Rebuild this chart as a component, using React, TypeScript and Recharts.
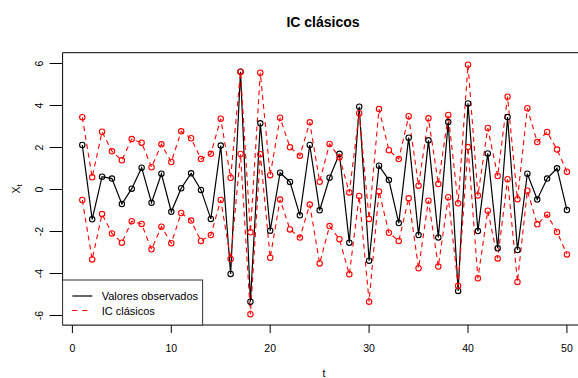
import React from "react";
import { ComposedChart, Line, XAxis, YAxis, ReferenceArea } from "recharts";

const T = [1, 2, 3, 4, 5, 6, 7, 8, 9, 10, 11, 12, 13, 14, 15, 16, 17, 18, 19, 20, 21, 22, 23, 24, 25, 26, 27, 28, 29, 30, 31, 32, 33, 34, 35, 36, 37, 38, 39, 40, 41, 42, 43, 44, 45, 46, 47, 48, 49, 50];
const OBS = [2.12, -1.42, 0.61, 0.52, -0.69, 0.04, 1.04, -0.63, 0.75, -1.06, 0.06, 0.77, -0.02, -1.4, 2.09, -4.02, 5.61, -5.34, 3.15, -1.96, 0.8, 0.36, -1.23, 2.12, -0.99, 0.56, 1.7, -2.53, 3.94, -3.39, 1.13, 0.45, -1.6, 2.47, -2.17, 2.34, -2.28, 3.21, -4.83, 4.1, -1.98, 1.72, -2.8, 3.45, -2.88, 0.75, -0.48, 0.52, 1.01, -0.98];
const UPPER = [3.44, 0.58, 2.75, 1.82, 1.39, 2.4, 2.23, 1.06, 2.15, 1.31, 2.77, 2.44, 1.45, 1.7, 3.37, 0.56, 5.61, -2.04, 5.56, 0.68, 3.42, 2.01, 1.61, 3.2, 0.37, 2.17, 1.53, -0.14, 3.63, -1.4, 3.83, 1.87, 1.45, 3.49, 0.18, 3.39, 0.26, 3.55, -0.66, 5.94, -0.29, 2.93, 0.64, 4.42, -0.47, 3.87, 2.26, 2.74, 1.9, 0.85];
const LOWER = [-0.5, -3.33, -1.17, -2.09, -2.53, -1.51, -1.64, -2.85, -1.77, -2.56, -1.12, -1.48, -2.45, -2.17, -0.5, -3.31, 1.69, -5.94, 1.68, -3.25, -0.48, -1.9, -2.29, -0.72, -3.52, -1.74, -2.37, -4.04, -0.31, -5.34, -0.09, -2.06, -2.45, -0.42, -3.75, -0.53, -3.67, -0.37, -4.58, 2.02, -4.23, -1.01, -3.28, 0.49, -4.4, -0.06, -1.66, -1.2, -2.02, -3.09];
const X_TICKS = [0, 10, 20, 30, 40, 50];
const Y_TICKS = [-6, -4, -2, 0, 2, 4, 6];
const X_DOMAIN = [-0.99, 51.96];
const Y_DOMAIN = [-6.452, 6.514];

const data = T.map((t, i) => ({ t, obs: OBS[i], upper: UPPER[i], lower: LOWER[i] }));

const FONT = "'Liberation Sans', Arial, Helvetica, sans-serif";

const makeDot = (color: string) => (props: any) => (
  <circle
    key={`d-${props.index}`}
    cx={props.cx}
    cy={props.cy}
    r={2.7}
    fill="none"
    stroke={color}
    strokeWidth={1.1}
  />
);

const XTick = (props: any) => {
  const { x, payload } = props;
  return (
    <text x={x} y={352} textAnchor="middle" fontSize={10.5} fontFamily={FONT} fill="#000">
      {payload.value}
    </text>
  );
};

const YTick = (props: any) => {
  const { y, payload } = props;
  const bx = 43.5;
  return (
    <text
      x={bx}
      y={y}
      transform={`rotate(-90 ${bx} ${y})`}
      textAnchor="middle"
      fontSize={10.5}
      fontFamily={FONT}
      fill="#000"
    >
      {payload.value}
    </text>
  );
};

export default function App() {
  return (
    <div style={{ position: "absolute", left: 0, top: 0, width: 578, height: 378, overflow: "hidden", background: "#fff" }}>
      <ComposedChart
        width={590}
        height={378}
        data={data}
        margin={{ top: 52.7, right: 3.7, bottom: 0, left: 0 }}
      >
        <XAxis
          dataKey="t"
          type="number"
          domain={X_DOMAIN}
          ticks={X_TICKS}
          allowDataOverflow
          axisLine={false}
          tickLine={{ stroke: "#000", strokeWidth: 1 }}
          tickSize={8}
          height={53}
          tick={<XTick />}
          interval={0}
        />
        <YAxis
          type="number"
          domain={Y_DOMAIN}
          ticks={Y_TICKS}
          allowDataOverflow
          axisLine={false}
          tickLine={{ stroke: "#000", strokeWidth: 1 }}
          tickSize={13}
          width={62.6}
          tick={<YTick />}
          interval={0}
        />
        <ReferenceArea
          x1={X_DOMAIN[0]}
          x2={X_DOMAIN[1]}
          y1={Y_DOMAIN[0]}
          y2={Y_DOMAIN[1]}
          fill="none"
          fillOpacity={0}
          stroke="#000"
          strokeWidth={1}
          ifOverflow="visible"
        />
        <Line
          type="linear"
          dataKey="obs"
          stroke="#000"
          strokeWidth={1.2}
          dot={makeDot("#000")}
          activeDot={false}
          isAnimationActive={false}
        />
        <Line
          type="linear"
          dataKey="upper"
          stroke="#ff0000"
          strokeWidth={1.1}
          strokeDasharray="5 4"
          dot={makeDot("#ff0000")}
          activeDot={false}
          isAnimationActive={false}
        />
        <Line
          type="linear"
          dataKey="lower"
          stroke="#ff0000"
          strokeWidth={1.1}
          strokeDasharray="5 4"
          dot={makeDot("#ff0000")}
          activeDot={false}
          isAnimationActive={false}
        />
      </ComposedChart>
      <svg
        width={578}
        height={378}
        style={{ position: "absolute", left: 0, top: 0, pointerEvents: "none" }}
      >
        <text x={323} y={26.5} textAnchor="middle" fontSize={14} fontWeight="bold" fontFamily={FONT} fill="#000">
          IC clásicos
        </text>
        <text x={324} y={377} textAnchor="middle" fontSize={10.5} fontFamily={FONT} fill="#000">
          t
        </text>
        <text
          x={19.5}
          y={189}
          transform="rotate(-90 19.5 189)"
          textAnchor="middle"
          fontSize={10.5}
          fontFamily={FONT}
          fill="#000"
        >
          <tspan>X</tspan>
          <tspan fontSize={7.5} dy={2.5}>t</tspan>
        </text>
        <g>
          <rect x={62.6} y={280} width={140} height={45} fill="#fff" stroke="#333" strokeWidth={1} />
          <line x1={72.3} y1={296} x2={92.3} y2={296} stroke="#000" strokeWidth={1.2} />
          <text x={101.7} y={300} fontSize={11} fontFamily={FONT} fill="#000">
            Valores observados
          </text>
          <line x1={72.3} y1={310.5} x2={92.3} y2={310.5} stroke="#ff0000" strokeWidth={1.1} strokeDasharray="5 5" />
          <text x={101.7} y={314.5} fontSize={11} fontFamily={FONT} fill="#000">
            IC clásicos
          </text>
        </g>
      </svg>
    </div>
  );
}
